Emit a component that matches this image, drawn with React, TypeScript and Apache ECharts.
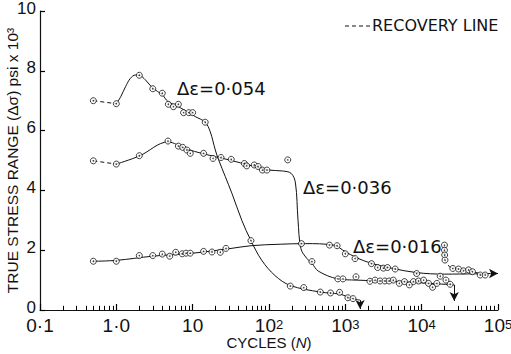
import React, { useEffect, useRef } from "react";
import * as echarts from "echarts";

// ---- tick labels ----
const xTickBases = ["0·1", "1·0", "10", "10", "10", "10", "10"];
const xTickExps = ["", "", "", "2", "3", "4", "5"];
const yTickLabels = ["0", "2", "4", "6", "8", "10"];
const minorDecades = [0.1, 1, 10, 100, 1000, 10000];
const minorMults = [2, 3, 4, 5, 6, 7, 8, 9];
const minorTickLength = 0.14; // in stress units

// ---- measured points (cycles N, stress range ksi) ----
const p054 = [
  [0.5, 7.0], [1, 6.9], [2, 7.85], [3, 7.4], [4, 7.25], [4.8, 6.88], [5.6, 6.8], [6.5, 6.88],
  [7.6, 6.6], [8.9, 6.6], [10, 6.6], [14.6, 6.28], [58, 2.32], [190, 0.8], [285, 0.75],
  [470, 0.6], [640, 0.57], [840, 0.59], [1080, 0.41], [1260, 0.38],
];
const p036 = [
  [0.5, 4.99], [1, 4.88], [2, 5.16], [4.75, 5.65], [6.5, 5.48], [7.4, 5.44], [8.4, 5.35],
  [9.3, 5.24], [13.9, 5.24], [18.5, 5.07], [23.5, 5.1], [32, 5.04], [47.5, 4.9], [51, 4.82],
  [64, 4.85], [72, 4.8], [82, 4.68], [94, 4.68], [176, 5.02], [365, 1.62], [800, 1.04],
  [930, 1.04], [1380, 1.11], [2100, 0.96], [2450, 1.0], [2850, 0.97], [3300, 0.97],
  [3750, 0.97], [4250, 1.0], [5100, 0.89], [5950, 0.95], [6900, 0.84], [7800, 0.95],
  [9100, 0.97], [10600, 1.0], [12300, 0.89], [13900, 0.76], [15800, 0.89], [20800, 1.0],
  [23600, 0.86],
];
const p016 = [
  [0.5, 1.63], [1, 1.63], [2, 1.82], [3, 1.82], [4, 1.87], [5, 1.8], [6, 1.93], [7.3, 1.88],
  [8.2, 1.9], [9.3, 1.9], [13.9, 1.96], [17.9, 1.94], [23, 1.93], [27.3, 2.06], [266, 2.22],
  [620, 2.17], [780, 2.15], [1000, 1.88], [1340, 1.72], [2200, 1.55], [2650, 1.42],
  [3150, 1.4], [3570, 1.42], [4500, 1.37], [8600, 1.22], [17500, 1.13],
];
const p016Recovered = [
  [19900, 2.17], [19900, 2.0], [20000, 1.84], [20200, 1.67], [25600, 1.39], [30400, 1.37],
  [35300, 1.31], [41100, 1.34], [46300, 1.28], [58500, 1.17], [67900, 1.17],
];

// ---- drawn curves ----
const c054Recovery = [[0.5, 7.0], [1, 6.9]];
const c054 = [
  [1, 6.9], [1.14, 7.13], [1.32, 7.47], [1.53, 7.75], [1.78, 7.86], [2.05, 7.84], [2.4, 7.7],
  [3, 7.42], [4, 7.2], [4.75, 6.97], [6.5, 6.8], [8.9, 6.6], [10.8, 6.47], [14.6, 6.28],
  [17, 5.96], [19.8, 5.35], [21.9, 5.02], [32.7, 3.9], [44, 3.0], [58, 2.32], [80, 1.67],
  [120, 1.15], [190, 0.82], [470, 0.6], [840, 0.53], [1260, 0.38], [1560, 0.33],
];
const c036Recovery = [[0.5, 4.99], [1, 4.88]];
const c036 = [
  [1, 4.88], [2, 5.15], [4.75, 5.62], [8, 5.4], [14, 5.22], [30, 5.02], [60, 4.82], [100, 4.68],
  [150, 4.65], [195, 4.57], [222, 4.25], [240, 3.0], [262, 2.05], [312, 1.73], [365, 1.56],
  [443, 1.3], [800, 1.04], [1400, 1.0], [5000, 0.95], [26700, 0.84],
];
const c016 = [
  [0.5, 1.63], [1, 1.66], [3, 1.8], [10, 1.9], [30, 2.05], [58, 2.15], [140, 2.2], [300, 2.22],
  [700, 2.17], [1000, 1.95], [1400, 1.75], [2200, 1.56], [4000, 1.4], [8600, 1.25],
  [20000, 1.2], [50000, 1.21], [80000, 1.22],
];
const c016Recovery = [
  [19900, 2.17], [19900, 2.0], [20000, 1.84], [20200, 1.67], [23000, 1.45], [30400, 1.36],
  [41100, 1.31], [58500, 1.22],
];

// ---- arrows marking unfinished runs ----
const arrow054 = [[1560, 0.33], [1560, 0.03]];
const arrow036 = [[26700, 0.84], [26700, 0.3]];
const arrow016 = [[80000, 1.22], [100000, 1.22]];

const INK = "#111";

function lineSeries(data: number[][], dashed: boolean, arrow?: number[][]) {
  const s: any = {
    type: "line",
    data,
    showSymbol: false,
    symbol: "none",
    smooth: dashed ? false : 0.35,
    lineStyle: { color: INK, width: 1, type: dashed ? [4, 3] : "solid" },
    z: 2,
    silent: true,
  };
  if (arrow) {
    s.markLine = {
      silent: true,
      symbol: ["none", "arrow"],
      symbolSize: [7, 9],
      label: { show: false },
      lineStyle: { color: INK, width: 1, type: "solid" },
      data: [[{ coord: arrow[0] }, { coord: arrow[1] }]],
    };
  }
  return s;
}

export default function App() {
  const ref = useRef<HTMLDivElement>(null);
  useEffect(() => {
    if (!ref.current) return;
    const chart = echarts.init(ref.current, null, { renderer: "svg" });
    const allPoints = [...p054, ...p036, ...p016, ...p016Recovered];
    const minorTickLines: any[] = [];
    minorDecades.forEach((d) => {
      minorMults.forEach((m) => {
        minorTickLines.push([{ coord: [d * m, 0] }, { coord: [d * m, minorTickLength] }]);
      });
    });
    const tickSeries: any = {
      type: "line",
      data: c016Recovery,
      showSymbol: false,
      symbol: "none",
      lineStyle: { opacity: 0 },
      silent: true,
      z: 6,
      markLine: {
        silent: true,
        symbol: ["none", "none"],
        label: { show: false },
        lineStyle: { color: "#000", width: 1, type: "solid", opacity: 1 },
        data: minorTickLines,
      },
    };
    const option: any = {
      animation: false,
      backgroundColor: "#fff",
      grid: { left: 40, right: 13, top: 11, bottom: 44, outerBoundsMode: "none" },
      xAxis: {
        type: "log",
        logBase: 10,
        min: 0.1,
        max: 100000,
        splitNumber: 6,
        axisLine: { show: true, lineStyle: { color: INK, width: 1.2 } },
        axisTick: { show: true, inside: true, length: 6, lineStyle: { color: "#000", width: 1.2 } },
        splitLine: { show: false },
        axisLabel: {
          interval: 0,
          color: INK,
          margin: 8,
          formatter: (v: number) => {
            const i = Math.round(Math.log10(v)) + 1;
            const e = xTickExps[i] ?? "";
            return e ? `{b|${xTickBases[i]}}{s|${e}}` : `{b|${xTickBases[i] ?? ""}}`;
          },
          rich: {
            b: { fontSize: 19, lineHeight: 15, fontFamily: "Liberation Sans", color: INK },
            s: {
              fontSize: 13,
              lineHeight: 4,
              fontFamily: "Liberation Sans",
              color: INK,
              verticalAlign: "top",
            },
          },
        },
        name: "{a|CYCLES (}{n|N}{a|)}",
        nameLocation: "middle",
        nameGap: 26,
        nameMoveOverlap: false,
        nameTextStyle: {
          rich: {
            a: { fontSize: 15, lineHeight: 13, fontFamily: "Liberation Sans", color: INK },
            n: { fontSize: 15, lineHeight: 13, fontFamily: "Liberation Sans", fontStyle: "italic", color: INK },
          },
        },
      },
      yAxis: {
        type: "value",
        min: 0,
        max: 10,
        interval: 2,
        axisLine: { show: true, lineStyle: { color: INK, width: 1.2 } },
        axisTick: { show: true, inside: true, length: 5, lineStyle: { color: "#000", width: 1.2 } },
        splitLine: { show: false },
        axisLabel: {
          color: INK,
          fontSize: 17,
          lineHeight: 6,
          verticalAlign: "bottom",
          fontFamily: "Liberation Sans",
          margin: 4,
          formatter: (v: number) => yTickLabels[Math.round(v / 2)] ?? "",
        },
        name: "TRUE STRESS RANGE (Δσ) psi x 10³",
        nameLocation: "middle",
        nameGap: 20,
        nameMoveOverlap: false,
        nameTextStyle: { fontSize: 15.5, fontFamily: "Liberation Sans", color: INK },
      },
      series: [
        lineSeries(c054Recovery, true),
        lineSeries(c054, false, arrow054),
        lineSeries(c036Recovery, true),
        lineSeries(c036, false, arrow036),
        lineSeries(c016, false, arrow016),
        lineSeries(c016Recovery, true),
        tickSeries,
        {
          type: "scatter",
          data: allPoints,
          symbol: "circle",
          symbolSize: 6,
          itemStyle: { color: "#fff", borderColor: INK, borderWidth: 1 },
          z: 3,
          silent: true,
        },
        {
          type: "scatter",
          data: allPoints,
          symbol: "circle",
          symbolSize: 1.6,
          itemStyle: { color: INK },
          z: 4,
          silent: true,
        },
      ],
      graphic: [
        {
          type: "text",
          left: 177,
          top: 79,
          style: { text: "Δε=0·054", fontSize: 18, fontFamily: "DejaVu Sans", fill: INK },
        },
        {
          type: "text",
          left: 303,
          top: 178,
          style: { text: "Δε=0·036", fontSize: 18, fontFamily: "DejaVu Sans", fill: INK },
        },
        {
          type: "text",
          left: 353,
          top: 237,
          style: { text: "Δε=0·016", fontSize: 18, fontFamily: "DejaVu Sans", fill: INK },
        },
        {
          type: "line",
          shape: { x1: 345, y1: 26, x2: 371, y2: 26 },
          style: { stroke: INK, lineWidth: 1, lineDash: [4, 3] },
        },
        {
          type: "text",
          left: 372,
          top: 17,
          style: { text: "RECOVERY LINE", fontSize: 16, fontFamily: "DejaVu Sans", fill: INK },
        },
      ],
    };
    chart.setOption(option);
    return () => chart.dispose();
  }, []);
  return <div ref={ref} style={{ width: 511, height: 354, position: "absolute", left: 0, top: 0 }} />;
}
